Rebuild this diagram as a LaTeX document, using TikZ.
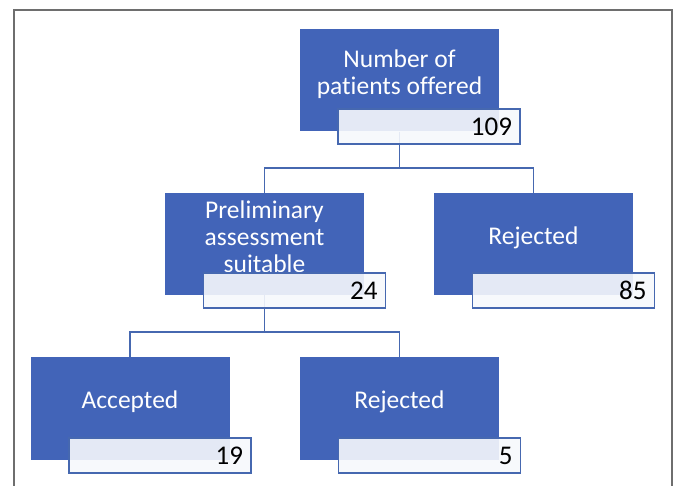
\documentclass[tikz,border=0pt]{standalone}
\usepackage{fontspec}
\setmainfont[Ligatures={NoCommon}]{Carlito}
\definecolor{boxblue}{RGB}{66,100,184}
\definecolor{lineblue}{RGB}{70,104,176}
\definecolor{numfill}{RGB}{246,248,252}
\definecolor{framegray}{RGB}{110,110,110}
\begin{document}
\begin{tikzpicture}[x=1pt,y=-1pt,
  bluebox/.style={rectangle, fill=boxblue, draw=none, minimum width=199pt, minimum height=102pt, inner sep=0pt},
  boxtext/.style={text=white, align=center, font=\fontsize{25.5}{27}\selectfont, inner sep=0pt},
  numbox/.style={rectangle, draw=lineblue, line width=1.5pt, fill=numfill, fill opacity=0.9, text opacity=1,
    minimum width=182pt, minimum height=35pt, inner xsep=8pt, inner ysep=0pt, text width=166pt, align=right,
    font=\fontsize{27}{28}\selectfont, text=black},
  conn/.style={draw=lineblue, line width=1.8pt},
  frame/.style={draw=framegray, line width=2pt}]
\useasboundingbox (0,0) rectangle (675,486);
% frame
\draw[frame] (13.5,486) -- (13.5,10.5) -- (671.5,10.5) -- (671.5,486);
% junctions
\coordinate (j1) at (399.5,168);
\coordinate (j2) at (264.5,332);
% blue boxes
\node[bluebox] (top) at (399.5,80.5) {};
\node[bluebox] (pre) at (264.5,244) {};
\node[bluebox] (rej1) at (533.5,244) {};
\node[bluebox] (acc) at (130,408.5) {};
\node[bluebox] (rej2) at (399.5,408.5) {};
% connectors
\draw[conn] (top.south) -- (j1) -| (pre.north);
\draw[conn] (j1) -| (rej1.north);
\draw[conn] (pre.south) -- (j2) -| (acc.north);
\draw[conn] (j2) -| (rej2.north);
% texts
\node[boxtext] (toptext) at (399.5,74) {Number of\\patients offered};
\node[boxtext] (pretext) at (264.5,237) {Preliminary\\assessment\\suitable};
\node[boxtext] (rej1text) at (533.5,238) {Rejected};
\node[boxtext] (acctext) at (130,402) {Accepted};
\node[boxtext] (rej2text) at (399.5,402) {Rejected};
% number boxes
\node[numbox] (ntop) at (429,126.5) {109};
\node[numbox] (npre) at (294.5,290.5) {24};
\node[numbox] (nrej1) at (563.5,290.5) {85};
\node[numbox] (nacc) at (160,455.5) {19};
\node[numbox] (nrej2) at (429.5,455.5) {5};
\end{tikzpicture}
\end{document}
